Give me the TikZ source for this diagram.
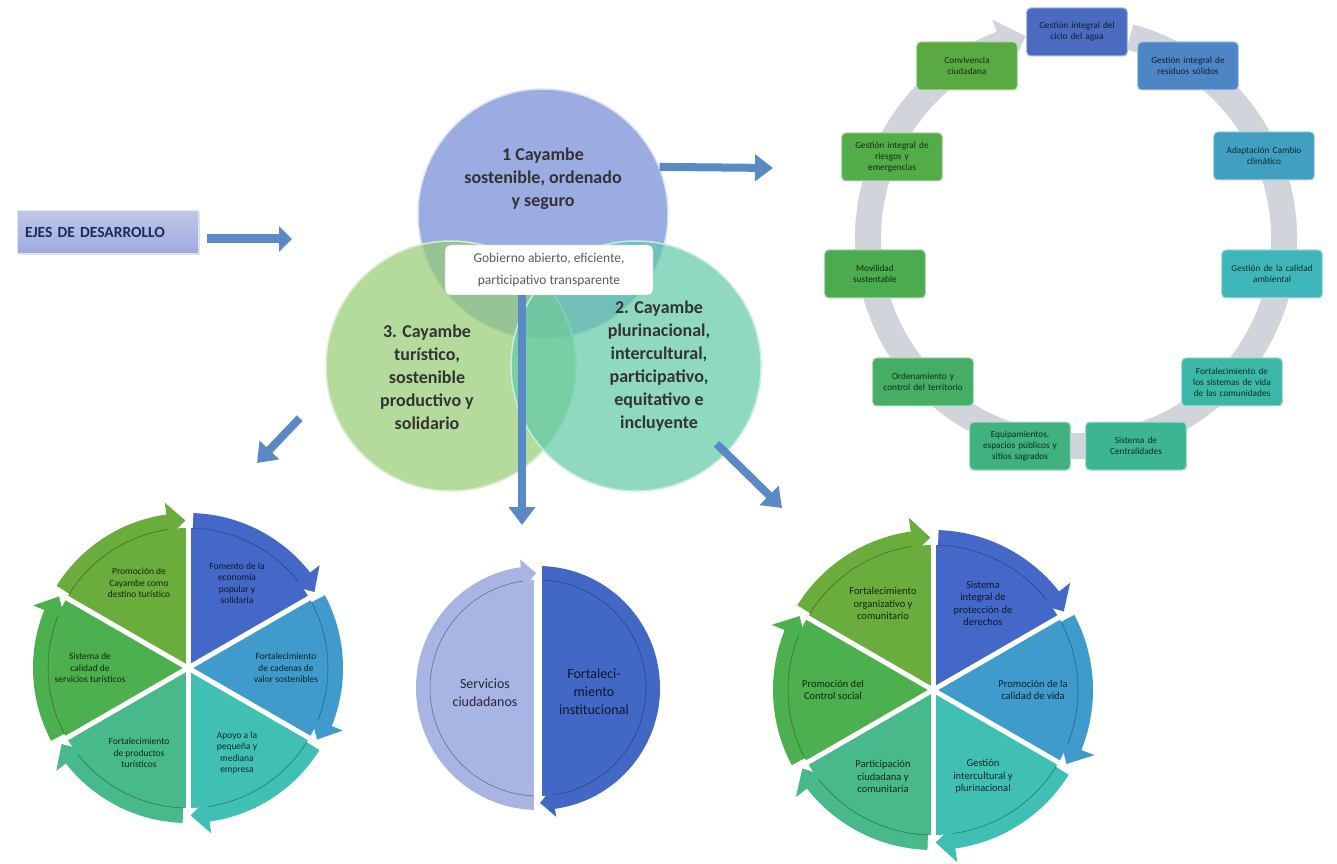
\documentclass[tikz,border=0pt]{standalone}
\usepackage{fontspec}
\setmainfont{Carlito}
\usetikzlibrary{positioning,arrows.meta,calc,shadows}

\definecolor{arblue}{HTML}{5A8AC6}
\definecolor{ringgray}{HTML}{D2D4DC}
\definecolor{ejesfill}{HTML}{9EA9E0}
\definecolor{ejestext}{HTML}{1F2A5C}
\definecolor{vblue}{HTML}{9AACE2}
\definecolor{vgreen}{HTML}{95CD72}
\definecolor{vteal}{HTML}{60CAA8}
\definecolor{vtext}{HTML}{333333}
% wheel colours
\definecolor{wa}{HTML}{4368C8}
\definecolor{wb}{HTML}{3E9BCB}
\definecolor{wc}{HTML}{3FC0B2}
\definecolor{wd}{HTML}{47B98A}
\definecolor{we}{HTML}{4DB04E}
\definecolor{wf}{HTML}{6BAD3D}
\definecolor{mlight}{HTML}{A7B4E4}
\definecolor{mdark}{HTML}{4168C4}
% cycle colours
\definecolor{cA}{HTML}{4A6BBF}
\definecolor{cB}{HTML}{4D85C5}
\definecolor{cC}{HTML}{41A0BF}
\definecolor{cD}{HTML}{3FB7BA}
\definecolor{cE}{HTML}{3CB6A5}
\definecolor{cF}{HTML}{3DB593}
\definecolor{cG}{HTML}{3FB27F}
\definecolor{cH}{HTML}{45AE64}
\definecolor{cI}{HTML}{4AAB4F}
\definecolor{cJ}{HTML}{52AC48}
\definecolor{cK}{HTML}{5AAA43}

\begin{document}
\begin{tikzpicture}[x=1pt,y=1pt,
  cbox/.style={draw=white!55!#1,line width=1pt,fill=#1,rounded corners=4pt,
    minimum width=98pt,minimum height=48pt,text width=94pt,align=center,
    text=#1!25!black,font=\fontsize{9.3}{11}\selectfont},
  eje/.style={circle,minimum size=250pt,draw=white!65!#1,line width=1.5pt,fill=#1},
  ejetxt/.style={align=center,text=vtext,font=\bfseries\fontsize{18}{23}\selectfont},
  ar/.style={draw=arblue,line width=8pt,-{Triangle[length=18pt,width=26pt]}},
  segtxt/.style={align=center,text=#1!22!black}]

\useasboundingbox (0,0) rectangle (1337,863);
\fill[white] (0,0) rectangle (1337,863);

% ejes de desarrollo
\node[draw=white!70!ejesfill,line width=1pt,top color=ejesfill!65!white,bottom color=ejesfill,
  drop shadow={opacity=.25,shadow xshift=2pt,shadow yshift=-2pt},
  minimum width=181pt,minimum height=43pt,text width=165pt,align=left,
  font=\bfseries\fontsize{15.5}{18}\selectfont,text=ejestext] (ejes) at (107.5,631) {EJES DE DESARROLLO};
\coordinate (ejes-end) at (292,624);
\draw[ar,line width=9pt,-{Triangle[length=13pt,width=25pt]}] ($(ejes.east)+(8,-7)$) -- (ejes-end);

% venn
\node[eje=vblue] (eje1) at (543,649) {};
\node[eje=vgreen,fill opacity=.7] (eje3) at (451,497) {};
\node[eje=vteal,fill opacity=.7] (eje2) at (636,497) {};
\node[ejetxt] (t1) at (543,684) {1 Cayambe\\sostenible, ordenado\\y seguro};
\node[ejetxt] (t3) at (427,486) {3. Cayambe\\turístico,\\sostenible\\productivo y\\solidario};
\node[ejetxt] (t2) at (659,497) {2. Cayambe\\plurinacional,\\intercultural,\\participativo,\\equitativo e\\incluyente};
\node[draw=gray!50,fill=white,rounded corners=5pt,minimum width=208pt,minimum height=50pt,
  align=center,font=\fontsize{13.5}{22}\selectfont,text=black!65] (gob) at (549,593)
  {Gobierno abierto, eficiente,\\participativo transparente};

\coordinate (cyc-in) at (773,695);
\draw[ar] (eje1.22) -- (cyc-in);
\coordinate (mid-in) at (522,338);
\draw[ar] (gob.south -| mid-in) -- (mid-in);
\coordinate (rw-in) at (782,355);
\draw[ar] ($(eje2)+(-44:112)$) -- (rw-in);
\coordinate (lw-in) at (257,400);
\draw[ar] ($(eje3)+(199:160)$) -- (lw-in);

% cycle
\coordinate (rc) at (1076,625);
\draw[ringgray,line width=26pt] ($(rc)+(75:208)$) arc[start angle=75,end angle=-249,radius=208];
\fill[ringgray] ($(rc)+(111:182)$) -- ($(rc)+(104:208)$) -- ($(rc)+(111:234)$) -- cycle;
\node[cbox=cA] (agua) at (1077,831) {Gestión integral del\\ciclo del agua};
\node[cbox=cB] (residuos) at (1188,797) {Gestión integral de\\residuos sólidos};
\node[cbox=cC] (clima) at (1264,707) {Adaptación Cambio\\climático};
\node[cbox=cD] (calidad) at (1272,589) {Gestión de la calidad\\ambiental};
\node[cbox=cE] (vida) at (1232,481) {Fortalecimiento de\\los sistemas de vida\\de las comunidades};
\node[cbox=cF] (central) at (1136,417) {Sistema de\\Centralidades};
\node[cbox=cG] (equip) at (1020,417) {Equipamientos,\\espacios públicos y\\sitios sagrados};
\node[cbox=cH] (orden) at (923,481) {Ordenamiento y\\control del territorio};
\node[cbox=cI] (movil) at (875,589) {Movilidad\\sustentable};
\node[cbox=cJ] (riesgos) at (892,706) {Gestión integral de\\riesgos y\\emergencias};
\node[cbox=cK] (conviv) at (967,797) {Convivencia\\ciudadana};

% left wheel
\begin{scope}[shift={(188,195)}]
\foreach \m/\c/\t [count=\i] in {60/wa/{Fomento de la\\economía\\popular y\\solidaria},
    0/wb/{Fortalecimiento\\de cadenas de\\valor sostenibles},
    -60/wc/{Apoyo a la\\pequeña y\\mediana\\empresa},
    -120/wd/{Fortalecimiento\\de productos\\turísticos},
    180/we/{Sistema de\\calidad de\\servicios turísticos},
    120/wf/{Promoción de\\Cayambe como\\destino turístico}}{
  \fill[\c] (0,0) -- (\m+30:140) arc[start angle=\m+30,end angle=\m-30,radius=140] -- cycle;
  \fill[\c] (\m+28:140) arc[start angle=\m+28,end angle=\m-22,radius=140]
    -- (\m-22:133) -- (\m-29:147.5) -- (\m-22:167) -- (\m-22:155)
    arc[start angle=\m-22,end angle=\m+28,radius=155] -- cycle;
  \draw[\c!55!black,line width=.5pt] (\m+28:140) arc[start angle=\m+28,end angle=\m-22,radius=140];
  \node[segtxt=\c,font=\fontsize{9.5}{11.5}\selectfont] (lw\i) at (\m:98) {\t};
}
\foreach \m in {90,30,...,-210} \draw[white,line width=5pt] (0,0) -- (\m:141);
\end{scope}

% middle circle
\begin{scope}[shift={(538,175)}]
\foreach \a/\c in {270/mlight,90/mdark}{
  \fill[\c] (0,0) -- (\a:108) arc[start angle=\a,end angle=\a-180,radius=108] -- cycle;
  \fill[\c] (\a-2:108) arc[start angle=\a-2,end angle=\a-172,radius=108]
    -- (\a-172:101) -- (\a-179:115) -- (\a-172:130) -- (\a-172:122)
    arc[start angle=\a-172,end angle=\a-2,radius=122] -- cycle;
  \draw[\c!55!black,line width=.5pt] (\a-2:108) arc[start angle=\a-2,end angle=\a-172,radius=108];
}
\draw[white,line width=8pt] (90:109) -- (270:109);
\end{scope}
\node[segtxt=mlight,font=\fontsize{14}{18}\selectfont] (serv) at (485,170) {Servicios\\ciudadanos};
\node[segtxt=mdark,font=\fontsize{14}{18}\selectfont] (fortal) at (594,171) {Fortaleci-\\miento\\institucional};

% right wheel
\begin{scope}[shift={(933,173)}]
\foreach \m/\c/\t [count=\i] in {60/wa/{Sistema\\integral de\\protección de\\derechos},
    0/wb/{Promoción de la\\calidad de vida},
    -60/wc/{Gestión\\intercultural y\\plurinacional},
    -120/wd/{Participación\\ciudadana y\\comunitaria},
    180/we/{Promoción del\\Control social},
    120/wf/{Fortalecimiento\\organizativo y\\comunitario}}{
  \fill[\c] (0,0) -- (\m+30:145) arc[start angle=\m+30,end angle=\m-30,radius=145] -- cycle;
  \fill[\c] (\m+28:145) arc[start angle=\m+28,end angle=\m-22,radius=145]
    -- (\m-22:138) -- (\m-29:152.5) -- (\m-22:174) -- (\m-22:160)
    arc[start angle=\m-22,end angle=\m+28,radius=160] -- cycle;
  \draw[\c!55!black,line width=.5pt] (\m+28:145) arc[start angle=\m+28,end angle=\m-22,radius=145];
  \node[segtxt=\c,font=\fontsize{10.5}{12.5}\selectfont] (rw\i) at (\m:100) {\t};
}
\foreach \m in {90,30,...,-210} \draw[white,line width=5pt] (0,0) -- (\m:146);
\end{scope}
\end{tikzpicture}
\end{document}
